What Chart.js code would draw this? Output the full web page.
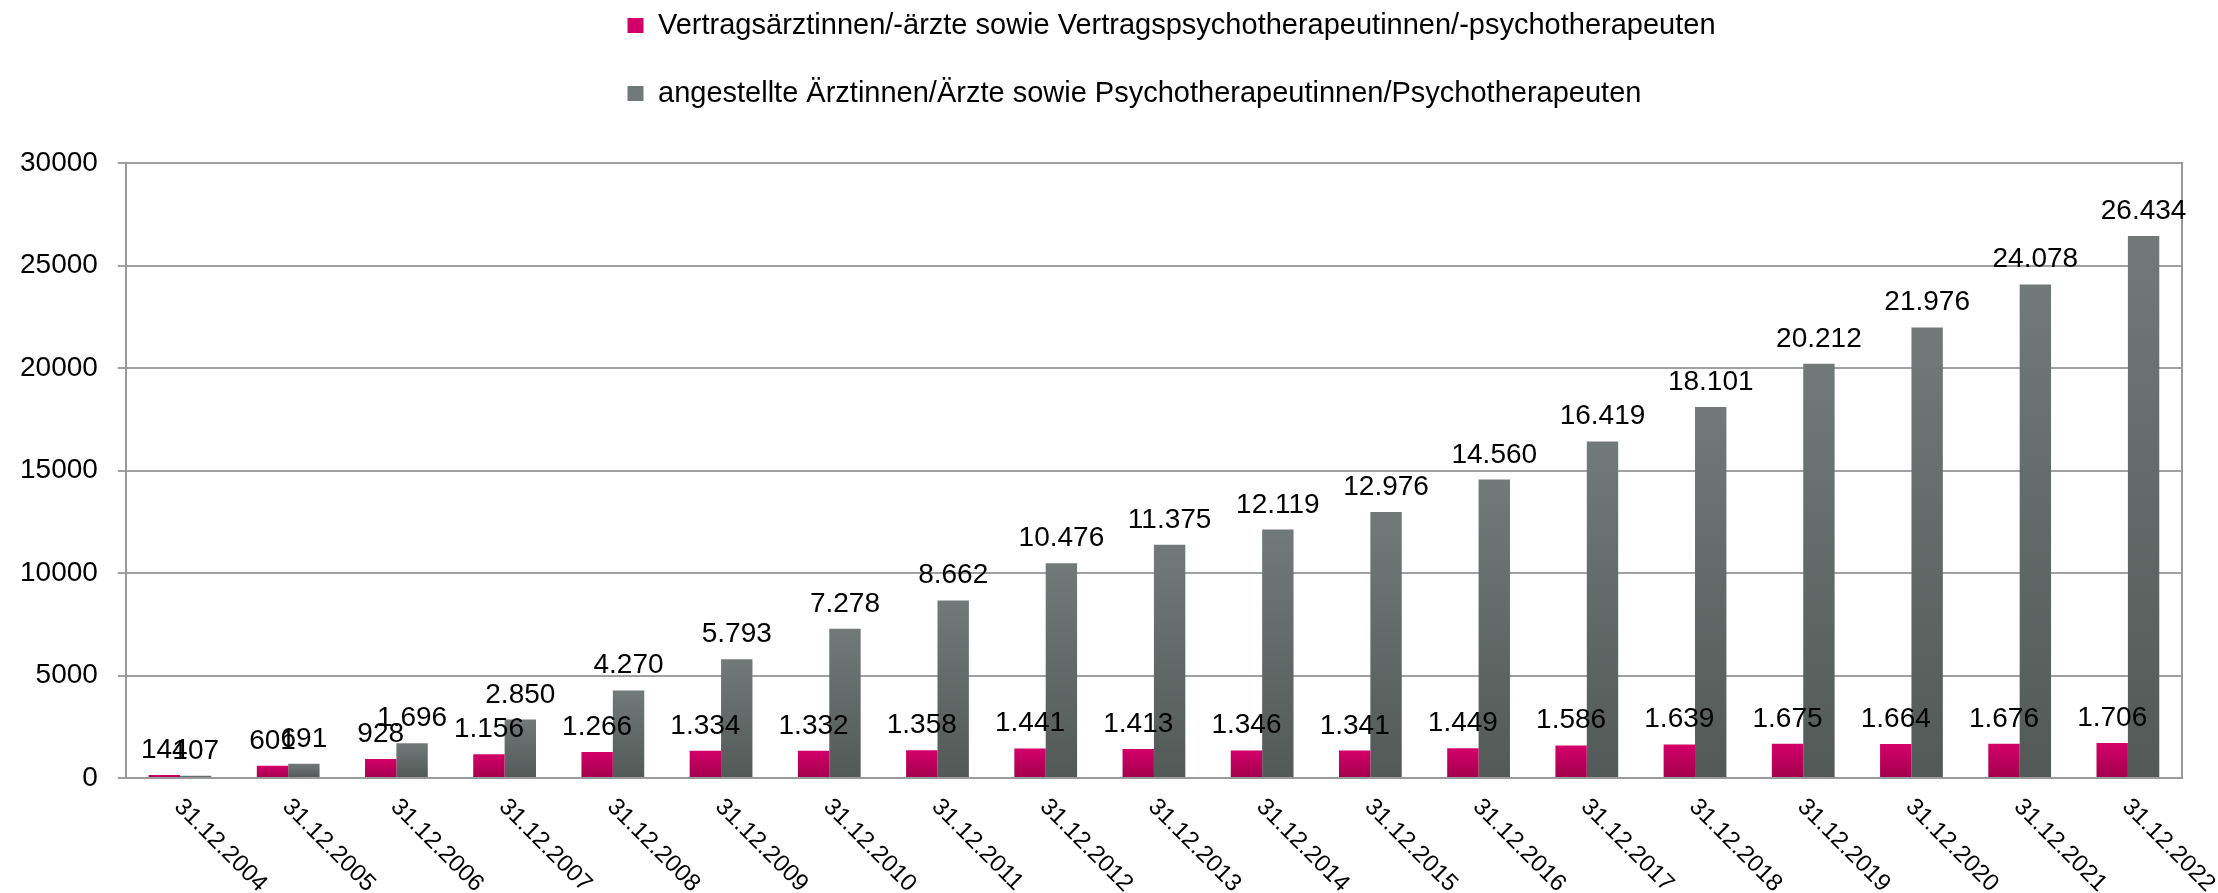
<!DOCTYPE html>
<html>
<head>
<meta charset="utf-8">
<script src="https://cdn.jsdelivr.net/npm/chart.js@4.4.1/dist/chart.umd.min.js"></script>
<style>
html, body { margin: 0; padding: 0; background: #fff; }
canvas { display: block; }
</style>
</head>
<body>
<canvas id="myChart" width="2218" height="893"></canvas>
<script>
var labels = ["31.12.2004", "31.12.2005", "31.12.2006", "31.12.2007", "31.12.2008", "31.12.2009",
    "31.12.2010", "31.12.2011", "31.12.2012", "31.12.2013", "31.12.2014", "31.12.2015",
    "31.12.2016", "31.12.2017", "31.12.2018", "31.12.2019", "31.12.2020", "31.12.2021", "31.12.2022"];
var vertragsaerzte = [144, 601, 928, 1156, 1266, 1334, 1332, 1358, 1441, 1413, 1346, 1341, 1449, 1586, 1639, 1675, 1664, 1676, 1706];
var angestellte = [107, 691, 1696, 2850, 4270, 5793, 7278, 8662, 10476, 11375, 12119, 12976, 14560, 16419, 18101, 20212, 21976, 24078, 26434];
var seriesNames = [
    "Vertragsärztinnen/-ärzte sowie Vertragspsychotherapeutinnen/-psychotherapeuten",
    "angestellte Ärztinnen/Ärzte sowie Psychotherapeutinnen/Psychotherapeuten"
];
var yMax = 30000, yStep = 5000;

var schrift = '"Liberation Sans", Arial, sans-serif';

// thousands with a dot, like 26.434
function punkt(v) {
    return String(v).replace(/\B(?=(\d{3})+(?!\d))/g, ".");
}

// each bar gets its own top-to-bottom gradient
function verlauf(oben, unten) {
    return function (c) {
        var area = c.chart.chartArea;
        if (!area || c.raw === undefined) return oben;
        var top = c.chart.scales.y.getPixelForValue(c.raw);
        if (!(area.bottom - top > 1)) return oben;
        var g = c.chart.ctx.createLinearGradient(0, top, 0, area.bottom);
        g.addColorStop(0, oben);
        g.addColorStop(1, unten);
        return g;
    };
}

var beschriftung = {
    id: "beschriftung",
    afterLayout: function (chart) {
        // legend rows start at the same left edge, top of the canvas
        chart.legend.left = 588.5;
        chart.legend.top = -28;
    },
    afterDatasetsDraw: function (chart) {
        var ctx = chart.ctx;
        ctx.save();
        ctx.fillStyle = "#000";
        ctx.font = "28px " + schrift;
        ctx.textAlign = "center";
        ctx.textBaseline = "alphabetic";
        chart.data.datasets.forEach(function (ds, i) {
            chart.getDatasetMeta(i).data.forEach(function (bar, j) {
                ctx.fillText(punkt(ds.data[j]), bar.x, bar.y - 17);
            });
        });

        var xs = chart.scales.x;
        ctx.font = "24px " + schrift;
        ctx.textAlign = "left";
        ctx.textBaseline = "middle";
        chart.data.labels.forEach(function (l, j) {
            ctx.save();
            ctx.translate(xs.getPixelForTick(j) - 2, chart.chartArea.bottom + 25);
            ctx.rotate(Math.PI / 4);
            ctx.fillText(l, 0, 0);
            ctx.restore();
        });
        ctx.restore();
    }
};

var ctx = document.getElementById("myChart").getContext("2d");
var chart = new Chart(ctx, {
    type: "bar",
    data: {
        labels: labels,
        datasets: [
            {
                label: seriesNames[0],
                data: vertragsaerzte,
                backgroundColor: verlauf("#d4006a", "#a2004d"),
                categoryPercentage: 0.58,
                barPercentage: 1
            },
            {
                label: seriesNames[1],
                data: angestellte,
                backgroundColor: verlauf("#717a79", "#525957"),
                categoryPercentage: 0.58,
                barPercentage: 1
            }
        ]
    },
    options: {
        responsive: false,
        animation: false,
        layout: { padding: { left: 0, right: 36, top: 17, bottom: 115 } },
        plugins: {
            tooltip: { enabled: false },
            legend: {
                position: "top",
                align: "start",
                labels: {
                    color: "#000",
                    font: { family: schrift, size: 29 },
                    boxWidth: 16,
                    boxHeight: 15,
                    padding: 39
                }
            }
        },
        scales: {
            x: {
                grid: { display: false, drawTicks: false },
                ticks: { display: false },
                border: { display: true, color: "#9a9a9a", width: 2 }
            },
            y: {
                min: 0,
                max: yMax,
                ticks: {
                    stepSize: yStep,
                    color: "#000",
                    padding: 20,
                    font: { family: schrift, size: 28 },
                    callback: function (v) { return String(v); }
                },
                grid: { color: "#a0a0a0", lineWidth: 2, tickLength: 8 },
                border: { display: true, color: "#999999", width: 2 }
            },
            rechts: {
                position: "right",
                grid: { display: false, drawTicks: false },
                ticks: { display: false },
                border: { display: true, color: "#999999", width: 2 }
            }
        }
    },
    plugins: [beschriftung]
});
</script>
</body>
</html>
